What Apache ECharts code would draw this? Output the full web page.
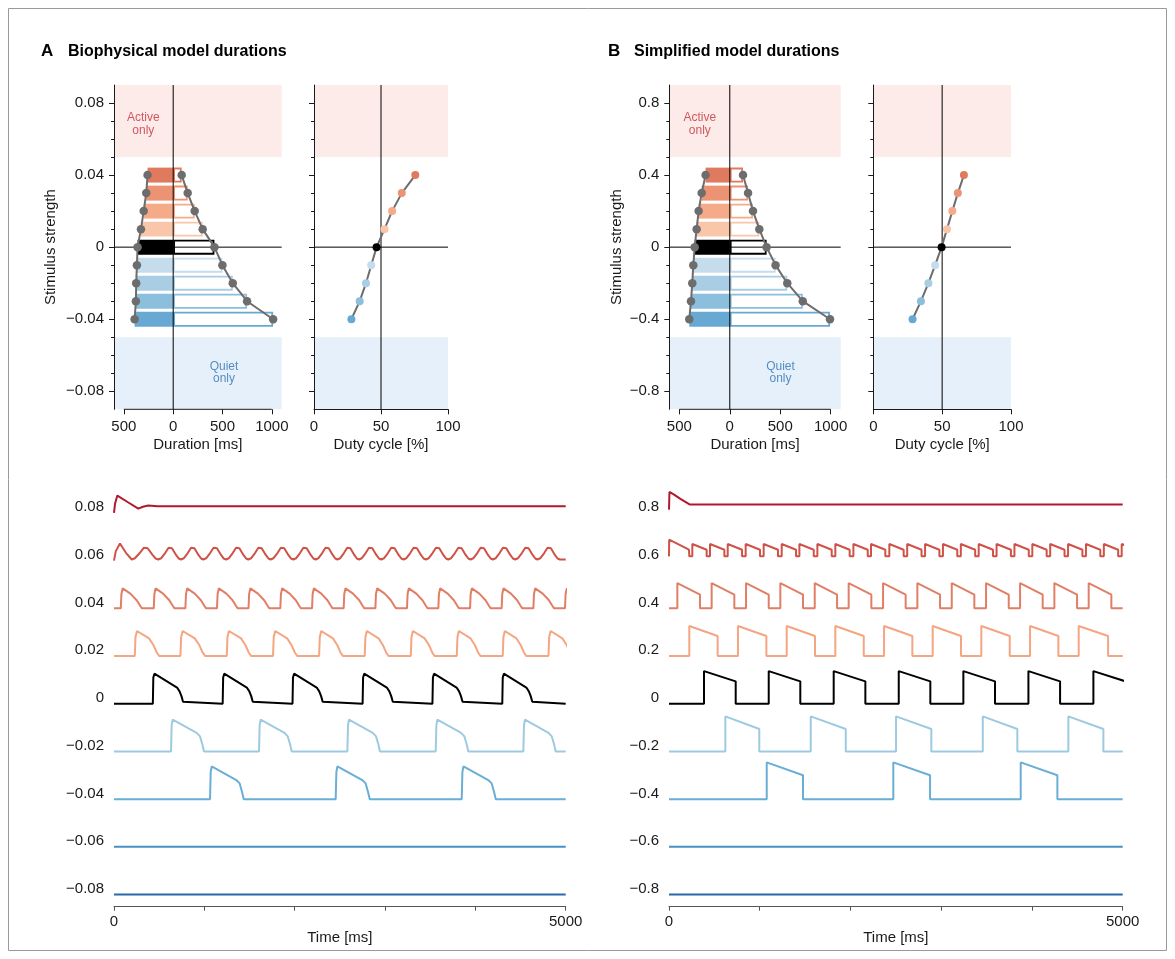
<!DOCTYPE html>
<html><head><meta charset="utf-8">
<script src="https://cdn.jsdelivr.net/npm/echarts@6/dist/echarts.min.js"></script>
<style>html,body{margin:0;padding:0;background:#fff}#c{width:1175px;height:959px}</style>
</head><body><div id="c"></div><script>
// ================= DATA =================
// Top panels: stimulus levels, durations (ms), duty cycle (%)
const topLevelsA = [0.04, 0.03, 0.02, 0.01, 0, -0.01, -0.02, -0.03, -0.04];
const topLevelsB = [0.4, 0.3, 0.2, 0.1, 0, -0.1, -0.2, -0.3, -0.4];
const levelColors = ['#e07a5f','#ec9373','#f5ab88','#f9c6aa','#000000','#c5dcec','#a8cde4','#8cbedd','#68a9d4'];
const activeA = [260, 273, 299, 327, 361, 368, 375, 378, 391];
const quietA  = [86, 147, 218, 299, 418, 499, 604, 749, 1013];
const dutyA   = [75.6, 65.5, 58.3, 52.6, 46.7, 42.7, 38.8, 34.1, 27.9];
const activeB = [240, 279, 309, 329, 348, 362, 372, 385, 402];
const quietB  = [131, 181, 230, 293, 365, 454, 570, 724, 994];
const dutyB   = [65.8, 61.4, 57.4, 53.5, 49.6, 44.9, 40.0, 34.6, 28.5];
// regime limits (stimulus strength)
const activeOnlyA = [0.05, 0.09], quietOnlyA = [-0.09, -0.05];
const activeOnlyB = [0.5, 0.9],  quietOnlyB = [-0.9, -0.5];
// tick labels
const yTicksA = [0.08, 0.04, 0, -0.04, -0.08];
const yMinorA = [-0.08,-0.07,-0.06,-0.05,-0.04,-0.03,-0.02,-0.01,0,0.01,0.02,0.03,0.04,0.05,0.06,0.07,0.08];
const yTicksB = [0.8, 0.4, 0, -0.4, -0.8];
const yMinorB = [-0.8,-0.7,-0.6,-0.5,-0.4,-0.3,-0.2,-0.1,0,0.1,0.2,0.3,0.4,0.5,0.6,0.7,0.8];
const durTicks = [-500, 0, 500, 1000];
const dutyTicks = [0, 50, 100];
const timeTicks = [0, 1000, 2000, 3000, 4000, 5000];
const timeLabels = [0, 5000];

// Bottom traces: levels and colours
const traceLevelsA = [0.08, 0.06, 0.04, 0.02, 0, -0.02, -0.04, -0.06, -0.08];
const traceLevelsB = [0.8, 0.6, 0.4, 0.2, 0, -0.2, -0.4, -0.6, -0.8];
const traceColors = ['#b2182b','#cf5246','#e07f66','#f4a582','#000000','#9ecae1','#6aaed6','#4a8fc3','#2b69a7'];
// activity r is in units of trace row spacing; [time ms, r]
const A_paths = [
  [[0,0],[12,0.2],[37,0.365],[150,0.23],[269,0.09],[320,0.13],[380,0.155],[480,0.14],[5000,0.14]],
  [[0,0],[20,0.2],[66,0.36],[130,0.17],[196,0.025]],
  [[0,0]], [[0,0]], [[0,0]], [[0,0]], [[0,0]],
  [[0,0],[5000,0]], [[0,0],[5000,0]]
];
const A_onsets = [
  [],
  [196,491,742,989,1240,1487,1734,1985,2232,2474,2712,2958,3205,3452,3700,3947,4194,4441,4688],
  [75,440,790,1140,1489,1841,2192,2542,2893,3243,3590,3941,4291,4642,4992],
  [230,735,1248,1760,2270,2775,3285,3794,4303,4809],
  [430,1203,1976,2752,3525,4298],
  [631,1605,2583,3561,4531],
  [1063,2454,3849],
  [], []
];
const A_offsets = [
  [],
  [491,742,989,1240,1487,1734,1985,2232,2474,2712,2958,3205,3452,3700,3947,4194,4441,4688,4935],
  [310,670,1020,1370,1720,2070,2420,2772,3122,3472,3820,4170,4520,4872,5222],
  [502,1010,1520,2030,2535,3040,3550,4058,4565,5075],
  [778,1550,2324,3100,3872,4644],
  [996,1967,2944,3922,4889],
  [1436,2831,4226],
  [], []
];
// burst shapes: [fraction of burst, r]
const A_shapes = [
  [],
  [[0,0.025],[0.12,0.05],[0.3,0.16],[0.45,0.27],[0.52,0.29],[0.6,0.26],[0.78,0.12],[0.9,0.045],[1,0.025]],
  [[0,0],[0.03,0.3],[0.09,0.42],[0.45,0.31],[0.75,0.17],[0.92,0.05],[1,0]],
  [[0,0],[0.03,0.4],[0.09,0.525],[0.58,0.37],[0.77,0.22],[0.9,0.07],[1,0]],
  [[0,0],[0.015,0.55],[0.05,0.63],[0.77,0.34],[0.85,0.26],[0.91,0.16],[0.96,0.04],[1,0]],
  [[0,0],[0.02,0.55],[0.05,0.666],[0.78,0.39],[0.88,0.315],[0.95,0.15],[1,0]],
  [[0,0],[0.02,0.57],[0.05,0.685],[0.78,0.4],[0.88,0.33],[0.95,0.15],[1,0]],
  [], []
];
const B_paths = [
  [[0,0.07],[5,0.44],[60,0.38],[130,0.29],[231,0.175],[5000,0.175]],
  [[0,0.09],[2,0.44],[220,0.23],[224,0.09]],
  [[0,0]], [[0,0]], [[0,0]], [[0,0]], [[0,0]],
  [[0,0],[5000,0]], [[0,0],[5000,0]]
];
const B_onsets = [
  [],
  [257,452,647,845,1043,1242,1437,1635,1833,2032,2226,2428,2625,2822,3019,3216,3413,3610,3807,4004,4201,4398,4595,4792,4989],
  [92,470,849,1227,1606,1980,2359,2737,3116,3494,3869,4247,4625],
  [224,760,1297,1833,2370,2906,3442,3979,4515],
  [386,1099,1815,2532,3244,3961,4677],
  [621,1562,2502,3458,4401],
  [1077,2472,3876],
  [], []
];
const B_offsets = [
  [],
  [415,610,805,1003,1201,1400,1595,1793,1991,2190,2384,2586,2783,2980,3177,3374,3571,3768,3965,4162,4359,4556,4753,4950,5147],
  [342,720,1099,1477,1852,2230,2608,2987,3365,3744,4118,4497,4875],
  [536,1073,1609,2146,2682,3218,3755,4291,4839],
  [735,1447,2164,2880,3593,4310,5030],
  [995,1948,2891,3839,4787],
  [1477,2877,4280],
  [], []
];
const B_shapes = [
  [],
  [[0,0.09],[0,0.35],[1,0.23],[1,0.09]],
  [[0,0],[0,0.53],[1,0.29],[1,0]],
  [[0,0],[0,0.63],[1,0.42],[1,0]],
  [[0,0],[0,0.685],[1,0.47],[1,0]],
  [[0,0],[0,0.735],[1,0.47],[1,0]],
  [[0,0],[0,0.77],[1,0.5],[1,0]],
  [], []
];

// ================= STYLE / LAYOUT =================
const FONT = '"Liberation Sans", Arial, Helvetica, sans-serif';
const INK = '#1a1a1a';
const FS = 15;
const baseShift = 0.12;
const tMax = 5000;

function fmt(v){ return v === 0 ? '0' : (v < 0 ? '\u2212' : '') + String(+Math.abs(v).toFixed(3)); }

function buildTrace(path, on, off, shape, level, step){
  const pts = path.slice();
  for (let i = 0; i < on.length; i++){
    const d = off[i] - on[i];
    shape.forEach(([f, r]) => pts.push([on[i] + f * d, r]));
  }
  const last = pts[pts.length - 1];
  if (last[0] < tMax) pts.push([tMax, last[1]]);
  return pts.map(([t, r]) => [t, level + step * (r - baseShift)]);
}

const grids = [
  {left:114, top:85, width:167.7, height:324.3},
  {left:314, top:85, width:134, height:324.3},
  {left:669.3, top:85, width:171.4, height:324.3},
  {left:873.3, top:85, width:137.7, height:324.3},
  {left:114, top:483.4, width:451.7, height:423.3},
  {left:669, top:483.4, width:453.7, height:423.3}
].map(g => Object.assign({containLabel:false, outerBoundsMode:'none'}, g));

const lbl = {fontSize:FS, color:INK, fontFamily:FONT};
const xAxis = [], yAxis = [], series = [];

function topPanel(gi, yMax, yTicks, yMinor, levels, active, quiet, duty, actOnly, quiOnly, barH, nameGap, actPos, quiPos){
  const gd = gi, gc = gi + 1;
  xAxis.push({type:'value', gridIndex:gd, min:-600, max:1100, z:6,
    axisLine:{show:false, onZero:false}, splitLine:{show:false},
    axisTick:{show:true, customValues:durTicks, length:5, lineStyle:{color:INK}},
    axisLabel:Object.assign({customValues:durTicks, formatter:v => String(Math.abs(v)), margin:10}, lbl),
    name:'Duration [ms]', nameLocation:'middle', nameGap:28, nameTextStyle:lbl});
  xAxis.push({type:'value', gridIndex:gc, min:0, max:100, z:6,
    axisLine:{show:true, onZero:false, lineStyle:{color:INK}}, splitLine:{show:false},
    axisTick:{show:true, customValues:dutyTicks, length:5, lineStyle:{color:INK}},
    axisLabel:Object.assign({customValues:dutyTicks, formatter:v => String(v), margin:10}, lbl),
    name:'Duty cycle [%]', nameLocation:'middle', nameGap:28, nameTextStyle:lbl});
  const yBase = {type:'value', min:-yMax, max:yMax, splitLine:{show:false}, position:'left', z:6};
  const yiD = yAxis.length;
  yAxis.push(Object.assign({}, yBase, {gridIndex:gd,
    axisLine:{show:true, onZero:false, lineStyle:{color:INK}},
    axisTick:{show:true, customValues:yTicks, length:5, lineStyle:{color:INK}},
    axisLabel:Object.assign({customValues:yTicks, formatter:fmt, margin:10}, lbl),
    name:'Stimulus strength', nameLocation:'middle', nameGap:nameGap, nameTextStyle:lbl}));
  yAxis.push(Object.assign({}, yBase, {gridIndex:gd, axisLine:{show:false, onZero:false},
    axisTick:{show:true, customValues:yMinor, length:3, lineStyle:{color:INK}}, axisLabel:{show:false}}));
  const yiC = yAxis.length;
  yAxis.push(Object.assign({}, yBase, {gridIndex:gc,
    axisLine:{show:true, onZero:false, lineStyle:{color:INK}},
    axisTick:{show:true, customValues:yTicks, length:5, lineStyle:{color:INK}}, axisLabel:{show:false}}));
  yAxis.push(Object.assign({}, yBase, {gridIndex:gc, axisLine:{show:false, onZero:false},
    axisTick:{show:true, customValues:yMinor, length:3, lineStyle:{color:INK}}, axisLabel:{show:false}}));
  const xiD = xAxis.length - 2, xiC = xAxis.length - 1;

  const shadeRender = (params, api) => {
    const p1 = api.coord([api.value(0), api.value(3)]);
    const p2 = api.coord([api.value(2), api.value(1)]);
    return {type:'rect', shape:{x:p1[0], y:p1[1], width:p2[0]-p1[0], height:p2[1]-p1[1]}, style:{fill:api.visual('color')}};
  };
  const shadeData = (x0, x1) => [
    {value:[x0, actOnly[0], x1, actOnly[1]], itemStyle:{color:'#fdebe9'}},
    {value:[x0, quiOnly[0], x1, quiOnly[1]], itemStyle:{color:'#e6f0fa'}}
  ];
  series.push({type:'custom', xAxisIndex:xiD, yAxisIndex:yiD, z:1, silent:true, renderItem:shadeRender,
    encode:{x:[0,2], y:[1,3]}, data:shadeData(-600, 1100)});
  series.push({type:'custom', xAxisIndex:xiC, yAxisIndex:yiC, z:1, silent:true, renderItem:shadeRender,
    encode:{x:[0,2], y:[1,3]}, data:shadeData(0, 100)});

  const barRender = outlined => (params, api) => {
    const xv = api.value(0), yv = api.value(1);
    const p1 = api.coord([Math.min(0, xv), yv + barH/2]);
    const p2 = api.coord([Math.max(0, xv), yv - barH/2]);
    const c = api.visual('color');
    const w = p2[0]-p1[0], h = p2[1]-p1[1];
    if (outlined){
      const lw = 1.8;
      return {type:'rect', shape:{x:p1[0]+lw/2, y:p1[1]+lw/2, width:w-lw, height:h-lw}, style:{fill:'#fff', stroke:c, lineWidth:lw}};
    }
    return {type:'rect', shape:{x:p1[0], y:p1[1], width:w, height:h}, style:{fill:c}};
  };
  series.push({type:'custom', xAxisIndex:xiD, yAxisIndex:yiD, z:2, silent:true, renderItem:barRender(false),
    encode:{x:0, y:1}, data:levels.map((lv,i) => ({value:[-active[i], lv], itemStyle:{color:levelColors[i]}}))});
  series.push({type:'custom', xAxisIndex:xiD, yAxisIndex:yiD, z:2, silent:true, renderItem:barRender(true),
    encode:{x:0, y:1}, data:levels.map((lv,i) => ({value:[quiet[i], lv], itemStyle:{color:levelColors[i]}}))});

  const thin = (xi, yi, data) => ({type:'line', xAxisIndex:xi, yAxisIndex:yi, z:3, silent:true, symbol:'none',
    clip:false, lineStyle:{color:'#000', width:1}, data});
  series.push(thin(xiD, yiD, [[0,-yMax],[0,yMax]]));
  series.push(thin(xiD, yiD, [[-600,0],[1100,0]]));
  series.push(thin(xiC, yiC, [[50,-yMax],[50,yMax]]));
  series.push(thin(xiC, yiC, [[0,0],[100,0]]));
  series.push({type:'line', xAxisIndex:xiD, yAxisIndex:yiD, z:3, silent:true, symbol:'none', clip:false,
    lineStyle:{color:INK, width:1}, data:[[durTicks[0], -yMax],[durTicks[durTicks.length-1], -yMax]]});

  const gray = '#6d6d6d';
  series.push({type:'line', xAxisIndex:xiD, yAxisIndex:yiD, z:4, silent:true, symbol:'circle', symbolSize:8.5,
    lineStyle:{color:gray, width:2}, itemStyle:{color:gray}, data:levels.map((lv,i) => [-active[i], lv])});
  series.push({type:'line', xAxisIndex:xiD, yAxisIndex:yiD, z:4, silent:true, symbol:'circle', symbolSize:8.5,
    lineStyle:{color:gray, width:2}, itemStyle:{color:gray}, data:levels.map((lv,i) => [quiet[i], lv])});
  series.push({type:'line', xAxisIndex:xiC, yAxisIndex:yiC, z:4, silent:true, symbol:'circle', symbolSize:8,
    lineStyle:{color:gray, width:2},
    data:levels.map((lv,i) => ({value:[duty[i], lv], itemStyle:{color:levelColors[i]}}))});

  series.push({type:'scatter', xAxisIndex:xiD, yAxisIndex:yiD, z:5, silent:true, symbolSize:0,
    data:[
      {value:actPos, label:{formatter:'Active\nonly', color:'#c4323c'}},
      {value:quiPos, label:{formatter:'Quiet\nonly', color:'#2f73b5'}}
    ],
    label:{show:true, position:'inside', fontSize:12, lineHeight:12.5, fontFamily:FONT, align:'center'}});
}

topPanel(0, 0.09, yTicksA, yMinorA, topLevelsA, activeA, quietA, dutyA, activeOnlyA, quietOnlyA, 0.0083, 56, [-303, 0.0683], [515, -0.0698]);
topPanel(2, 0.9, yTicksB, yMinorB, topLevelsB, activeB, quietB, dutyB, activeOnlyB, quietOnlyB, 0.083, 45, [-297, 0.683], [503, -0.698]);

function tracePanel(gi, yMin, yMax, levels, paths, onsets, offsets, shapes, step){
  const xi = xAxis.length, yi = yAxis.length;
  xAxis.push({type:'value', gridIndex:gi, min:0, max:tMax, splitLine:{show:false},
    axisLine:{show:true, onZero:false, lineStyle:{color:'#555', width:1}},
    axisTick:{show:true, customValues:timeTicks, length:4, lineStyle:{color:'#555'}},
    axisLabel:Object.assign({customValues:timeLabels, formatter:v => String(v), margin:8}, lbl),
    name:'Time [ms]', nameLocation:'middle', nameGap:17, nameTextStyle:lbl});
  yAxis.push({type:'value', gridIndex:gi, min:yMin, max:yMax, splitLine:{show:false},
    axisLine:{show:false, onZero:false}, axisTick:{show:false},
    axisLabel:Object.assign({customValues:levels, formatter:fmt, margin:10}, lbl)});
  levels.forEach((lv, i) => {
    series.push({type:'line', xAxisIndex:xi, yAxisIndex:yi, z:3, silent:true, symbol:'none', clip:true,
      lineStyle:{color:traceColors[i], width:2}, itemStyle:{color:traceColors[i]},
      data:buildTrace(paths[i], onsets[i], offsets[i], shapes[i], lv, step)});
  });
}
tracePanel(4, -0.0875, 0.09, traceLevelsA, A_paths, A_onsets, A_offsets, A_shapes, 0.02);
tracePanel(5, -0.875, 0.9, traceLevelsB, B_paths, B_onsets, B_offsets, B_shapes, 0.2);

const chart = echarts.init(document.getElementById('c'), null, {renderer:'canvas'});
chart.setOption({
  animation:false,
  backgroundColor:'#fff',
  textStyle:{fontFamily:FONT},
  grid:grids, xAxis, yAxis, series,
  graphic:[
    {type:'rect', shape:{x:8.5, y:8.5, width:1158, height:942}, style:{fill:'none', stroke:'#9a9a9a', lineWidth:1}, silent:true},
    {type:'text', left:41, top:43, style:{text:'A', font:'bold 17px ' + FONT, fill:'#000'}},
    {type:'text', left:68, top:44, style:{text:'Biophysical model durations', font:'bold 16px ' + FONT, fill:'#000'}},
    {type:'text', left:608, top:43, style:{text:'B', font:'bold 17px ' + FONT, fill:'#000'}},
    {type:'text', left:634, top:44, style:{text:'Simplified model durations', font:'bold 16px ' + FONT, fill:'#000'}}
  ]
});
</script></body></html>
